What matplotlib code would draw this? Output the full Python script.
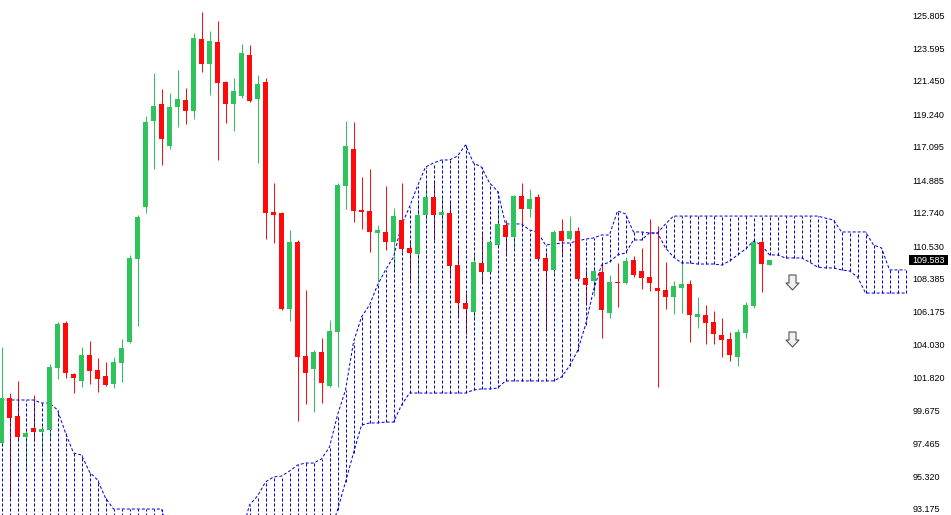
import matplotlib
matplotlib.use("Agg")
import matplotlib.pyplot as plt
import matplotlib.transforms as mtransforms
from matplotlib.path import Path
from matplotlib.patches import Rectangle
import numpy as np

# ---------------- data (prices) ----------------
opens = [97.51, 100.48, 99.29, 97.90, 98.50, 98.23, 98.37, 102.46, 105.44, 102.07,
         101.61, 103.32, 102.33, 101.94, 101.41, 102.80, 104.18, 109.67, 113.11, 118.80,
         119.92, 117.14, 119.72, 120.19, 119.46, 124.22, 122.57, 124.02, 121.38, 119.92,
         120.45, 123.16, 120.25, 121.38, 112.78, 112.71, 106.37, 110.80, 103.26, 102.40,
         103.52, 101.27, 104.85, 114.50, 116.95, 112.91, 112.85, 111.39, 111.46, 110.80,
         112.25, 110.40, 110.00, 112.58, 113.77, 112.58, 112.71, 109.27, 106.76, 106.17,
         109.41, 108.81, 110.60, 111.92, 111.13, 113.84, 112.98, 113.77, 109.74, 108.95,
         111.52, 110.99, 111.52, 108.41, 108.22, 108.81, 106.10, 108.15, 108.09, 109.61,
         108.88, 108.48, 107.75, 107.62, 107.16, 107.75, 108.02, 105.84, 105.97, 105.51,
         104.65, 104.38, 103.19, 104.78, 106.57, 110.80, 109.30]
highs = [103.85, 100.81, 101.61, 98.37, 100.68, 98.63, 102.73, 105.51, 105.57, 102.13,
         103.85, 104.25, 103.13, 102.86, 103.19, 104.38, 109.94, 112.58, 119.13, 121.97,
         120.91, 120.65, 122.17, 120.98, 124.62, 126.00, 124.75, 125.41, 121.44, 121.64,
         123.89, 123.82, 121.84, 121.64, 114.70, 112.78, 111.59, 110.93, 107.62, 103.65,
         104.45, 105.64, 114.70, 118.80, 118.73, 115.09, 115.62, 111.92, 114.50, 113.04,
         114.70, 110.93, 113.37, 114.70, 114.83, 113.77, 113.44, 110.60, 107.42, 109.94,
         111.46, 110.93, 113.11, 112.25, 113.90, 114.70, 114.30, 113.97, 110.13, 111.59,
         112.32, 112.51, 111.79, 108.95, 109.14, 109.41, 108.61, 109.41, 109.80, 109.87,
         110.40, 112.32, 111.85, 109.47, 108.22, 109.61, 108.28, 107.16, 106.63, 106.23,
         105.77, 104.85, 105.04, 106.83, 111.06, 110.93, 109.60]
lows = [97.31, 93.94, 97.64, 95.79, 97.64, 96.58, 97.70, 101.74, 101.80, 100.81,
        101.21, 101.41, 100.88, 101.27, 101.14, 101.54, 104.12, 105.24, 112.71, 115.62,
        115.89, 116.95, 118.40, 118.60, 118.93, 122.04, 120.52, 116.22, 118.66, 118.13,
        120.32, 120.05, 116.02, 110.99, 110.73, 106.30, 105.57, 98.96, 100.08, 99.56,
        100.15, 101.21, 101.21, 112.98, 112.12, 111.66, 110.13, 108.15, 110.27, 108.95,
        110.13, 108.28, 107.49, 112.05, 110.93, 111.39, 108.41, 105.77, 104.71, 105.64,
        108.09, 108.75, 110.53, 109.94, 110.40, 111.79, 112.45, 109.61, 104.98, 108.75,
        109.94, 110.93, 108.28, 106.76, 107.22, 104.45, 105.77, 106.50, 108.02, 108.48,
        107.69, 107.56, 101.21, 106.37, 106.04, 106.10, 104.18, 105.11, 104.05, 104.05,
        103.19, 102.93, 102.60, 104.45, 106.43, 107.49, 109.28]
closes = [100.48, 99.16, 97.90, 98.17, 98.23, 98.43, 102.53, 105.37, 102.13, 101.80,
          103.32, 102.27, 101.74, 101.34, 102.86, 103.79, 109.74, 112.45, 118.73, 119.79,
          117.61, 119.72, 120.25, 119.46, 124.28, 122.57, 124.09, 121.31, 119.92, 120.78,
          123.29, 120.12, 121.24, 112.71, 112.58, 106.37, 110.80, 103.19, 102.13, 103.52,
          101.47, 104.91, 114.57, 117.14, 112.85, 112.78, 111.46, 111.59, 110.80, 112.51,
          110.33, 110.07, 112.58, 113.77, 112.58, 112.78, 109.21, 106.76, 106.37, 109.47,
          108.81, 110.80, 111.99, 111.13, 113.84, 112.98, 113.64, 109.67, 108.88, 111.46,
          110.86, 111.52, 108.35, 107.95, 108.88, 106.30, 108.15, 108.09, 109.54, 108.61,
          108.41, 108.09, 107.56, 107.16, 107.89, 108.02, 105.97, 106.04, 105.44, 104.71,
          104.32, 103.32, 104.85, 106.63, 110.80, 109.34, 109.583]

# Ichimoku cloud boundaries (one value per bar, incl. the forward-shifted part)
span_b = ([100.35] * 5 + [100.15, 100.15, 99.69, 98.17, 96.85, 96.71, 95.59, 95.06, 93.87]
          + [93.14] * 7 + [91.5] * 21
          + [93.08, 94.93, 96.85, 98.69, 98.83, 98.83, 98.89, 98.89, 100.02]
          + [100.81] * 8 + [101.01, 101.08, 101.08, 101.14] + [101.61] * 7
          + [101.87, 102.60, 103.59, 105.31, 107.62, 109.27, 109.47, 109.94, 110.07,
             110.93, 110.93, 111.39, 111.39, 111.99]
          + [112.51] * 19 + [112.38, 112.25] + [111.46] * 4 + [110.60, 110.40]
          + [108.95] * 3)
span_a = ([91.5] * 31
          + [93.41, 94.00, 94.93, 95.26, 95.32, 95.65, 96.05, 96.18, 96.18, 96.45,
             97.24, 99.36, 101.01, 104.18, 105.84, 106.63, 107.95, 108.95, 109.80, 111.92,
             113.11, 114.50, 115.75, 116.02, 116.22, 116.22, 116.48, 117.21, 116.02, 115.75,
             114.70, 114.17, 111.99, 111.99, 111.99, 111.59, 111.46, 110.60, 110.66, 110.73,
             110.73, 110.86, 110.99, 111.06, 111.26, 111.26, 112.85, 112.65, 111.46, 111.46,
             111.39, 111.39, 110.40, 109.80, 109.41, 109.41, 109.34, 109.34, 109.34, 109.27,
             109.54, 109.94, 110.33, 110.86, 110.60, 109.94, 109.94, 109.74, 109.74, 109.74,
             109.47, 109.14, 109.08, 109.08, 108.95, 108.88, 108.48, 107.42]
          + [107.42] * 5)

price_ticks = [125.805, 123.595, 121.450, 119.240, 117.095, 114.885, 112.740, 110.530,
               108.385, 106.175, 104.030, 101.820, 99.675, 97.465, 95.320, 93.175]
last_price = 109.583
arrow_bar = [98.85, 98.85]
arrow_price = [108.18, 104.35]

# ---------------- styling ----------------
GREEN = "#2ec45b"
RED = "#ff0a0a"
BLUE = "#0000dc"
FONT = "Liberation Sans"

W, H = 951, 515
fig = plt.figure(figsize=(W / 100, H / 100), dpi=100)
fig.patch.set_facecolor("white")
ax = fig.add_axes([0, 0, 908 / W, 1])
ax.set_facecolor("white")
ax.set_xlim(-0.1875, 113.31)
ax.set_ylim(92.745, 126.797)

o = np.array(opens); h = np.array(highs); l = np.array(lows); c = np.array(closes)
x = np.arange(len(o))
up = c >= o
cols = np.where(up, GREEN, RED)

px = 0.72  # one pixel in points

# wicks
ax.vlines(x, l, h, colors=cols, lw=px, zorder=1)

# cloud hatch and boundaries
sa = np.array(span_a); sb = np.array(span_b)
kk = np.arange(len(sa))
ax.vlines(kk, np.minimum(sa, sb), np.maximum(sa, sb), colors=BLUE, lw=px,
          linestyles=[(0, (3, 2))], zorder=2)
ax.plot(kk, sa, color=BLUE, lw=px, ls=(0, (3, 2)), zorder=2)
ax.plot(kk, sb, color=BLUE, lw=px, ls=(0, (3, 2)), zorder=2)

# bodies
bottom = np.minimum(o, c)
height = np.maximum(np.abs(c - o), 0.07)
ax.bar(x, height, bottom=bottom, width=0.625, color=cols, lw=0, zorder=3)

# arrows
arrow_path = Path([(-0.47, 1), (0.47, 1), (0.47, -0.07), (0.87, -0.07), (0, -1),
                   (-0.87, -0.07), (-0.47, -0.07), (-0.47, 1)],
                  [Path.MOVETO] + [Path.LINETO] * 6 + [Path.CLOSEPOLY])
ax.plot(arrow_bar, arrow_price, ls="none", marker=arrow_path, ms=10.8,
        mfc="#f0f0f0", mec="#555555", mew=0.8, zorder=5)

# axes cosmetics
for s in ax.spines.values():
    s.set_visible(False)
ax.set_xticks([])
ax.yaxis.tick_right()
ax.set_yticks(price_ticks)
ax.set_yticklabels([f"{v:.3f}" for v in price_ticks], fontfamily=FONT, fontsize=6.5,
                   color="black")
ax.tick_params(axis="y", length=0, pad=3)

# current price box
trans = mtransforms.blended_transform_factory(ax.transAxes, ax.transData)
box_h = 10 * (126.797 - 92.745) / H
ax.add_patch(Rectangle((909 / 908, last_price - box_h / 2), 39 / 908, box_h,
                       transform=trans, facecolor="black", edgecolor="none",
                       clip_on=False, zorder=6))
ax.text(912 / 908, last_price, f"{last_price:.3f}", transform=trans, color="white",
        fontfamily=FONT, fontsize=6.5, ha="left", va="center", zorder=7, clip_on=False)

fig.savefig("out.png", dpi=100, facecolor="white")
